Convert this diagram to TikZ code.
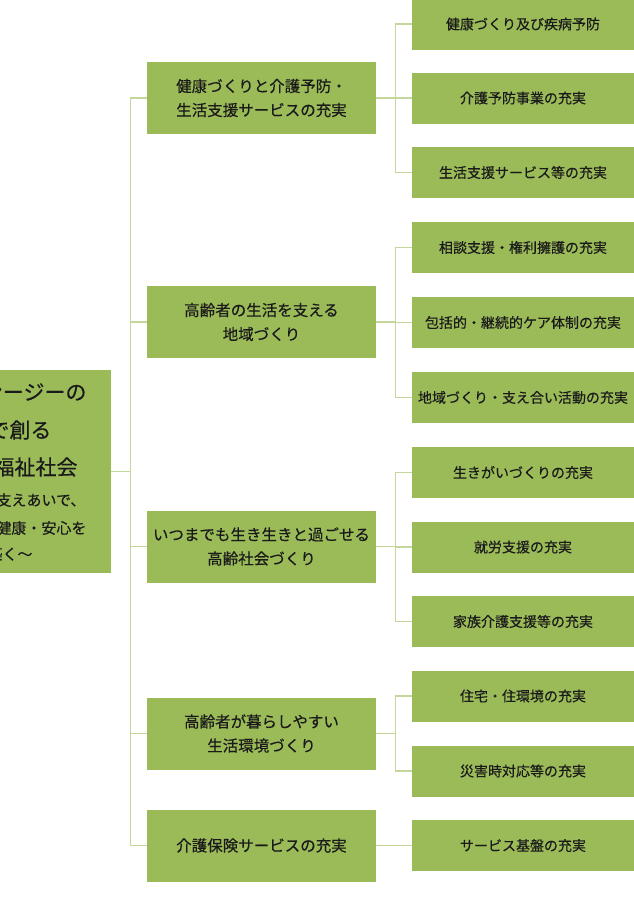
\documentclass[tikz,border=0pt]{standalone}
\usepackage{fontspec}
\setmainfont{Noto Sans CJK JP}[FakeBold=0.35]
\definecolor{boxgreen}{HTML}{9BBB59}
\definecolor{linkgreen}{HTML}{C4D79B}
\definecolor{inktext}{HTML}{1A1A1A}

\begin{document}
\begin{tikzpicture}[x=1pt,y=-1pt,
  box/.style={fill=boxgreen,text=inktext,inner sep=0pt},
  goal/.style={box,minimum width=229pt,minimum height=72pt,align=center,font=\fontsize{15.5}{24}\selectfont},
  item/.style={box,minimum width=222pt,minimum height=51pt,font=\fontsize{14}{16}\selectfont},
  link/.style={draw=linkgreen,line width=1.2pt}]

\useasboundingbox[fill=white] (0,0) rectangle (633,906);

% Root (cut off at the left edge)
\node[box,minimum width=180pt,minimum height=203pt] (root) at (21,471.5) {};
\node[anchor=east,text=inktext,font=\fontsize{21}{21}\selectfont] (rootA) at (90,392) {ンージーの};
\node[anchor=east,text=inktext,font=\fontsize{21}{21}\selectfont] (rootB) at (55,430) {で創る};
\node[anchor=east,text=inktext,font=\fontsize{21}{21}\selectfont] (rootC) at (81,467) {福祉社会};
\node[anchor=east,text=inktext,font=\fontsize{15}{15}\selectfont] (rootD) at (89,500) {支えあいで、};
\node[anchor=east,text=inktext,font=\fontsize{15}{15}\selectfont] (rootE) at (90,528) {健康・安心を};
\node[anchor=east,text=inktext,font=\fontsize{15}{15}\selectfont] (rootF) at (36,554) {築く～};

% Goals
\node[goal] (g1) at (261.5,98) {健康づくりと介護予防・\\生活支援サービスの充実};
\node[goal] (g2) at (261.5,322) {高齢者の生活を支える\\地域づくり};
\node[goal] (g3) at (261.5,546.5) {いつまでも生き生きと過ごせる\\高齢社会づくり};
\node[goal] (g4) at (261.5,733.5) {高齢者が暮らしやすい\\生活環境づくり};
\node[goal] (g5) at (261.5,845.5) {介護保険サービスの充実};

% Measures
\node[item] (g1a) at (523,24) {健康づくり及び疾病予防};
\node[item] (g1b) at (523,98) {介護予防事業の充実};
\node[item] (g1c) at (523,172.5) {生活支援サービス等の充実};
\node[item] (g2a) at (523,247.5) {相談支援・権利擁護の充実};
\node[item] (g2b) at (523,322.5) {包括的・継続的ケア体制の充実};
\node[item] (g2c) at (523,397.5) {地域づくり・支え合い活動の充実};
\node[item] (g3a) at (523,472.5) {生きがいづくりの充実};
\node[item] (g3b) at (523,547) {就労支援の充実};
\node[item] (g3c) at (523,621.5) {家族介護支援等の充実};
\node[item] (g4a) at (523,696) {住宅・住環境の充実};
\node[item] (g4b) at (523,771) {災害時対応等の充実};
\node[item] (g5a) at (523,845.5) {サービス基盤の充実};

% Root to goals
\draw[link] (root.east) -- ++(19,0) |- (g1.west);
\draw[link] (root.east) -- ++(19,0) |- (g2.west);
\draw[link] (root.east) -- ++(19,0) |- (g3.west);
\draw[link] (root.east) -- ++(19,0) |- (g4.west);
\draw[link] (root.east) -- ++(19,0) |- (g5.west);

% Goals to measures
\draw[link] (g1.east) -- ++(19,0) |- (g1a.west);
\draw[link] (g1.east) -- ++(19,0) |- (g1b.west);
\draw[link] (g1.east) -- ++(19,0) |- (g1c.west);
\draw[link] (g2.east) -- ++(19,0) |- (g2a.west);
\draw[link] (g2.east) -- ++(19,0) |- (g2b.west);
\draw[link] (g2.east) -- ++(19,0) |- (g2c.west);
\draw[link] (g3.east) -- ++(19,0) |- (g3a.west);
\draw[link] (g3.east) -- ++(19,0) |- (g3b.west);
\draw[link] (g3.east) -- ++(19,0) |- (g3c.west);
\draw[link] (g4.east) -- ++(19,0) |- (g4a.west);
\draw[link] (g4.east) -- ++(19,0) |- (g4b.west);
\draw[link] (g5.east) -- (g5a.west);

\end{tikzpicture}
\end{document}
